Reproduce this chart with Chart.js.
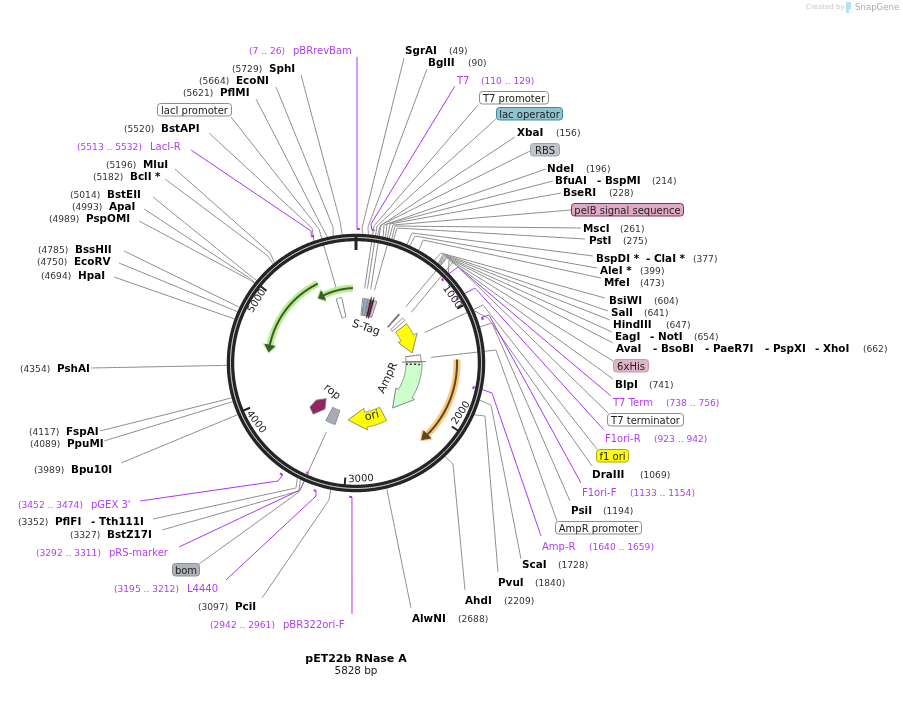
<!DOCTYPE html>
<html>
<head>
<meta charset="utf-8">
<title>pET22b RNase A</title>
<script src="https://cdn.jsdelivr.net/npm/chart.js@4"></script>
<style>
  html, body { margin: 0; padding: 0; background: #fff; }
  canvas { display: block; }
</style>
</head>
<body>
<canvas id="map" width="903" height="708"></canvas>
<script>
// Plasmid data, all in base pairs
const plasmidName = 'pET22b RNase A';
const plasmidSize = 5828;
const tickValues = [1000, 2000, 3000, 4000, 5000];

const enzymeNames = [
  ['SgrAI'], ['BglII'], ['XbaI'], ['NdeI'], ['BfuAI', 'BspMI'], ['BseRI'], ['MscI'], ['PstI'],
  ['BspDI *', 'ClaI *'], ['AleI *'], ['MfeI'], ['BsiWI'], ['SalI'], ['HindIII'], ['EagI', 'NotI'],
  ['AvaI', 'BsoBI', 'PaeR7I', 'PspXI', 'XhoI'], ['BlpI'], ['DraIII'], ['PsiI'], ['ScaI'], ['PvuI'],
  ['AhdI'], ['AlwNI'], ['PciI'], ['BstZ17I'], ['PflFI', 'Tth111I'], ['Bpu10I'], ['PpuMI'], ['FspAI'],
  ['PshAI'], ['HpaI'], ['EcoRV'], ['BssHII'], ['PspOMI'], ['ApaI'], ['BstEII'], ['BclI *'], ['MluI'],
  ['BstAPI'], ['PflMI'], ['EcoNI'], ['SphI']
];
const enzymeSites = [
  49, 90, 156, 196, 214, 228, 261, 275, 377, 399, 473, 604, 641, 647, 654, 662, 741, 1069, 1194, 1728, 1840,
  2209, 2688, 3097, 3327, 3352, 3989, 4089, 4117, 4354, 4694, 4750, 4785, 4989, 4993, 5014, 5182, 5196,
  5520, 5621, 5664, 5729
];

const primerNames = ['pBRrevBam', 'T7', 'T7 Term', 'F1ori-R', 'F1ori-F', 'Amp-R', 'pBR322ori-F', 'L4440', 'pRS-marker', "pGEX 3'", 'LacI-R'];
const primerStarts = [7, 110, 738, 923, 1133, 1640, 2942, 3195, 3292, 3452, 5513];
const primerEnds = [26, 129, 756, 942, 1154, 1659, 2961, 3212, 3311, 3474, 5532];
const primerInside = [false, false, true, true, false, true, false, false, true, false, false];

const featureNames = ['T7 promoter', 'lac operator', 'RBS', 'pelB signal sequence', 'S-Tag', '6xHis', 'T7 terminator', 'f1 ori', 'AmpR promoter', 'AmpR', 'ori', 'bom', 'rop', 'lacI promoter'];
const featureStarts = [96, 118, 170, 198, 264, 664, 745, 845, 1340, 1443, 2460, 3218, 3464, 5550];
const featureEnds = [118, 165, 195, 264, 305, 682, 792, 1295, 1435, 2280, 3043, 3361, 3675, 5628];

const orfStarts = [1425, 5412, 5790];
const orfEnds = [2257, 4490, 5342];

// Layout: where the texts sit and where their leaders bend, in page pixels
const enzymeLayout = [
  { x: [405], n: 449, y: 50, a: [404, 58], e: [362, 228] },
  { x: [428], n: 468, y: 62, a: [427, 69], e: [368, 227] },
  { x: [517], n: 556, y: 132, a: [515, 137], e: [380, 226] },
  { x: [547], n: 586, y: 168, a: [546, 169], e: [384, 225] },
  { x: [555, 597], n: 652, y: 180, a: [553, 181], e: [387, 224] },
  { x: [563], n: 609, y: 192, a: [561, 193], e: [390, 224] },
  { x: [583], n: 620, y: 228, a: [581, 228], e: [395, 226] },
  { x: [589], n: 623, y: 240, a: [585, 239], e: [397, 228] },
  { x: [596, 646], n: 693, y: 258, a: [593, 256], e: [412, 233] },
  { x: [600], n: 640, y: 270, a: [597, 268], e: [415, 236] },
  { x: [604], n: 640, y: 282, a: [601, 278], e: [423, 240] },
  { x: [609], n: 654, y: 300, a: [605, 298], e: [441, 253] },
  { x: [611], n: 644, y: 312, a: [608, 311], e: [443, 254] },
  { x: [613], n: 666, y: 324, a: [610, 320], e: [444, 255] },
  { x: [615, 650], n: 694, y: 336, a: [612, 332], e: [445, 256] },
  { x: [616, 653, 705, 765, 815], n: 863, y: 348, a: [613, 343], e: [446, 257] },
  { x: [615], n: 649, y: 384, a: [613, 379], e: [449, 260] },
  { x: [592], n: 640, y: 474, a: [592, 466], e: [488, 318] },
  { x: [571], n: 603, y: 510, a: [570, 501], e: [492, 323] },
  { x: [522], n: 558, y: 564, a: [521, 559], e: [491, 405] },
  { x: [498], n: 535, y: 582, a: [498, 572], e: [485, 416] },
  { x: [465], n: 504, y: 600, a: [465, 590], e: [453, 464] },
  { x: [412], n: 458, y: 618, a: [411, 608], e: [387, 490] },
  { x: [235], n: 198, y: 606, a: [262, 598], e: [329, 500] },
  { x: [107], n: 70, y: 534, a: [162, 530], e: [299, 491] },
  { x: [55, 91], n: 18, y: 521, a: [153, 519], e: [296, 488] },
  { x: [71], n: 34, y: 469, a: [121, 463], e: null },
  { x: [67], n: 30, y: 443, a: [104, 441], e: null },
  { x: [66], n: 29, y: 431, a: [100, 431], e: null },
  { x: [57], n: 20, y: 368, a: [91, 368], e: null },
  { x: [78], n: 41, y: 275, a: [114, 277], e: null },
  { x: [74], n: 37, y: 261, a: [119, 263], e: null },
  { x: [75], n: 38, y: 249, a: [124, 251], e: null },
  { x: [86], n: 49, y: 218, a: [139, 221], e: [250, 280] },
  { x: [109], n: 72, y: 206, a: [144, 209], e: [251, 279] },
  { x: [107], n: 70, y: 194, a: [153, 197], e: [252, 277] },
  { x: [130], n: 93, y: 176, a: [165, 179], e: [268, 256] },
  { x: [143], n: 106, y: 164, a: [175, 169], e: [270, 253] },
  { x: [161], n: 124, y: 128, a: [209, 133], e: [312, 228] },
  { x: [220], n: 183, y: 92, a: [256, 99], e: [322, 227] },
  { x: [236], n: 199, y: 80, a: [276, 87], e: [333, 227] },
  { x: [269], n: 232, y: 68, a: [301, 75], e: [340, 221] }
];
const primerLayout = [
  { x: 293, n: 249, y: 50, a: [357, 57], e: null },
  { x: 457, n: 481, y: 80, a: [455, 86], e: [371, 224] },
  { x: 613, n: 666, y: 402, a: [611, 396], e: [458, 267] },
  { x: 605, n: 654, y: 438, a: [604, 430], e: [475, 288] },
  { x: 582, n: 630, y: 492, a: [581, 483], e: [489, 315] },
  { x: 542, n: 589, y: 546, a: [541, 536], e: [492, 393] },
  { x: 283, n: 210, y: 624, a: [352, 614], e: null },
  { x: 187, n: 114, y: 588, a: [226, 580], e: [316, 496] },
  { x: 109, n: 36, y: 552, a: [179, 547], e: [300, 490] },
  { x: 91, n: 18, y: 504, a: [140, 501], e: [278, 481] },
  { x: 150, n: 77, y: 146, a: [191, 150], e: [311, 231] }
];
// Labelled boxes for the features that have a leader; box = left, right, centre y
const boxLayout = {
  'T7 promoter': { box: [479, 548, 98], a: [478, 105], e: [374, 226], fill: '#ffffff', edge: '#8c8c8c' },
  'lac operator': { box: [496, 562, 114], a: [496, 119], e: [377, 226], fill: '#8fc3d2', edge: '#3d8aa0' },
  'RBS': { box: [530, 559, 150], a: [530, 151], e: [381, 225], fill: '#c0c4ca', edge: '#a0a4aa' },
  'pelB signal sequence': { box: [571, 683, 210], a: [571, 210], e: [393, 225], fill: '#dfa9c6', edge: '#93245f' },
  '6xHis': { box: [613, 648, 366], a: [613, 361], e: [447, 258], fill: '#e0b4c8', edge: '#c498ae' },
  'T7 terminator': { box: [607, 683, 420], a: [608, 413], e: [453, 262], fill: '#ffffff', edge: '#8c8c8c' },
  'f1 ori': { box: [596, 628, 456], a: [597, 449], e: [483, 305], fill: '#ffff00', edge: '#a8a800' },
  'AmpR promoter': { box: [555, 641, 528], a: [557, 521], e: [496, 350], fill: '#ffffff', edge: '#8c8c8c' },
  'bom': { box: [172, 199, 570], a: [199, 564], e: [299, 492], fill: '#b0b4ba', edge: '#8c9096' },
  'lacI promoter': { box: [157, 231, 110], a: [231, 117], e: [319, 229], fill: '#ffffff', edge: '#8c8c8c' }
};
const tickLabelLayout = [[452, 297, 55], [461, 413, -57], [361, 479, -3], [256, 422, 53], [257, 301, -58]];
// rop outline as [bp, radius] pairs
const ropOutline = [[3664, 63.7], [3675, 54.5], [3561, 46.5], [3464, 55.5], [3561, 66.7]];

const CX = 356, CY = 363;
const GREY = '#8c8c8c', PURPLE = '#a92ff5', PURPLE_TEXT = '#b23cf5', RING = '#252525';

function polar(bp, r) {
  const a = bp / plasmidSize * Math.PI * 2;
  return { x: CX + r * Math.sin(a), y: CY - r * Math.cos(a) };
}
function arc(from, to, r) {
  const out = [];
  const n = Math.max(2, Math.ceil(Math.abs(to - from) / 12));
  for (let i = 0; i <= n; i++) out.push(polar(from + (to - from) * i / n, r));
  return out;
}
function px(p) { return { x: p[0], y: p[1] }; }

const painted = [];
function addLine(points, color, width, extra) {
  // the tiny tension keeps Chart.js off its fast path, which merges points sharing a pixel column
  painted.push(Object.assign({
    data: points, showLine: true, borderColor: color, borderWidth: width,
    pointRadius: 0, pointHoverRadius: 0, fill: false, tension: 0.0001, borderCapStyle: 'butt'
  }, extra || {}));
}
function addShape(points, fillColor, edge) {
  addLine(points.concat([points[0]]), edge, 1, { fill: 'shape', backgroundColor: fillColor, borderJoinStyle: 'miter' });
}
function sector(from, to, rIn, rOut) {
  return arc(from, to, rOut).concat(arc(to, from, rIn));
}
function blockArrow(from, head, tip, rIn, rOut, wingIn, wingOut) {
  return arc(from, head, rOut)
    .concat([polar(head, wingOut), polar(tip, (rIn + rOut) / 2), polar(head, wingIn)])
    .concat(arc(head, from, rIn));
}

// Leaders go first so the ring paints over them
enzymeSites.forEach((site, i) => {
  const l = enzymeLayout[i];
  const pts = [px(l.a)];
  if (l.e) pts.push(px(l.e));
  pts.push(polar(site, 129));
  addLine(pts, GREY, 1);
});
primerNames.forEach((name, i) => {
  const l = primerLayout[i];
  const r = primerInside[i] ? 120 : 134;
  const pts = [px(l.a)];
  if (l.e) pts.push(px(l.e));
  pts.push(polar(primerStarts[i], r));
  addLine(pts, PURPLE, 1);
  addLine(arc(primerStarts[i], primerEnds[i], r), PURPLE, 2);
});
featureNames.forEach((name, i) => {
  const l = boxLayout[name];
  if (!l) return;
  addLine([px(l.a), px(l.e), polar((featureStarts[i] + featureEnds[i]) / 2, 75)], GREY, 1);
});

// Ring and scale ticks
addLine(arc(0, plasmidSize, 125.5), RING, 7.5);
addLine(arc(0, plasmidSize, 125.5), '#ffffff', 1);
addLine([polar(0, 113), polar(0, 129)], RING, 3);
tickValues.forEach(t => addLine([polar(t, 115), polar(t, 124)], RING, 2));

// Open reading frames: glow, dark line, arrow head
const orfColors = [['#fbc97a', '#5a4728'], ['#b7ee90', '#3d5a2b'], ['#b7ee90', '#3d5a2b']];
const orfRadii = [101, 88, 75];
orfStarts.forEach((s, i) => {
  const e = orfEnds[i], r = orfRadii[i], dir = e > s ? 1 : -1, body = e - dir * 70;
  const head = [polar(body, r - 5), polar(e, r), polar(body, r + 5)];
  addShape([polar(body, r - 7), polar(e + dir * 14, r), polar(body, r + 7)], orfColors[i][0], orfColors[i][0]);
  addLine(arc(s, body, r), orfColors[i][0], 7);
  addShape(head, orfColors[i][1], orfColors[i][1]);
  addLine(arc(s, body, r), orfColors[i][1], 2);
});

// Features
const idx = n => featureNames.indexOf(n);
const sliceFill = { 'T7 promoter': '#ffffff', 'lac operator': '#7fb8c8', 'RBS': '#aab0b8', 'pelB signal sequence': '#93245f', 'S-Tag': '#eab9cf', '6xHis': '#93245f', 'T7 terminator': '#ffffff', 'bom': '#a7adb5', 'lacI promoter': '#ffffff' };
Object.keys(sliceFill).forEach(n => {
  const wide = n === 'lacI promoter' ? 47 : (n === 'bom' ? 50 : 48);
  addShape(sector(featureStarts[idx(n)], featureEnds[idx(n)], wide, n === 'lacI promoter' ? 67 : 65), sliceFill[n], '#888888');
});
addShape(blockArrow(featureStarts[idx('f1 ori')], 1036, featureEnds[idx('f1 ori')], 50, 64, 47, 68), '#ffff00', '#8a8a6a');
addShape(sector(featureStarts[idx('AmpR promoter')], featureEnds[idx('AmpR promoter')], 50, 65), '#ffffff', '#777777');
addLine([polar(1438, 46), polar(1438, 70)], '#777777', 1);
addShape(blockArrow(featureStarts[idx('AmpR')], 1975, featureEnds[idx('AmpR')], 50, 66, 47, 69), '#ccffcc', '#7f7f7f');
addLine([polar(1478, 50), polar(1478, 66)], '#333333', 1.5, { borderDash: [2, 2] });
addShape(blockArrow(featureStarts[idx('ori')], 2755, featureEnds[idx('ori')], 50, 65, 46, 68), '#ffff00', '#8a8a6a');
addShape(ropOutline.map(p => polar(p[0], p[1])), '#93245f', '#7a7a7a');
addLine([polar(214, 46), polar(214, 68)], '#222222', 1);
addLine([polar(250, 46), polar(250, 68)], '#222222', 1);

// Texts go on top of the marks
const textPlugin = {
  id: 'mapText',
  afterDatasetsDraw(chart) {
    const c = chart.ctx;
    const xs = chart.scales.x, ys = chart.scales.y;
    const text = (s, x, y, font, color, align) => {
      c.font = font; c.fillStyle = color; c.textAlign = align || 'left'; c.textBaseline = 'middle';
      c.fillText(s, xs.getPixelForValue(x), ys.getPixelForValue(y + 1));
    };
    const turned = (s, x, y, deg, size) => {
      c.save();
      c.translate(xs.getPixelForValue(x), ys.getPixelForValue(y));
      c.rotate(deg * Math.PI / 180);
      c.font = size + 'px "DejaVu Sans"'; c.fillStyle = '#222'; c.textAlign = 'center'; c.textBaseline = 'middle';
      c.fillText(s, 0, 0);
      c.restore();
    };
    const BOLD = 'bold 10.4px "DejaVu Sans"', NUM = '9.1px "DejaVu Sans"', LABEL = '10px "DejaVu Sans"';

    enzymeNames.forEach((names, i) => {
      const l = enzymeLayout[i];
      names.forEach((n, j) => text((j ? '- ' : '') + n, l.x[j], l.y, BOLD, '#000'));
      text('(' + enzymeSites[i] + ')', l.n, l.y + 0.5, NUM, '#333');
    });
    primerNames.forEach((n, i) => {
      const l = primerLayout[i];
      text(n, l.x, l.y, LABEL, PURPLE_TEXT);
      text('(' + primerStarts[i] + ' .. ' + primerEnds[i] + ')', l.n, l.y + 0.5, NUM, PURPLE_TEXT);
    });
    Object.keys(boxLayout).forEach(n => {
      const b = boxLayout[n];
      const [x0, x1, y] = b.box;
      c.beginPath();
      c.roundRect(x0 + 0.5, y - 6.5, x1 - x0, 12.5, 3);
      c.fillStyle = b.fill; c.fill();
      c.strokeStyle = b.edge; c.lineWidth = 1; c.stroke();
      text(n, (x0 + x1) / 2 + 0.5, y, LABEL, '#222', 'center');
    });
    tickValues.forEach((t, i) => {
      const l = tickLabelLayout[i];
      turned(String(t), l[0], l[1], l[2], 10);
    });
    turned('S-Tag', 366, 328, 18, 11);
    turned('AmpR', 388, 378, -65, 11);
    turned('ori', 372, 416, -15, 11);
    turned('rop', 332, 392, 40, 11);

    text(plasmidName, CX, 658.5, 'bold 11px "DejaVu Sans"', '#000', 'center');
    text(plasmidSize + ' bp', CX, 670.5, '10.4px "DejaVu Sans"', '#222', 'center');

    text('Created by', 806, 6.5, '7px "DejaVu Sans"', '#c8c8c8');
    text('SnapGene', 855, 6.5, '8.6px "DejaVu Sans"', '#ababab');
    c.fillStyle = '#b5e0f5';
    c.fillRect(xs.getPixelForValue(846), ys.getPixelForValue(2), 5, 7);
    c.fillRect(xs.getPixelForValue(846), ys.getPixelForValue(9), 3, 4);
  }
};

// Chart.js paints the first dataset last, so flip the painting order
new Chart(document.getElementById('map'), {
  type: 'scatter',
  data: { datasets: painted.slice().reverse() },
  options: {
    responsive: false,
    animation: false,
    events: [],
    layout: { padding: 0 },
    plugins: { legend: { display: false }, tooltip: { enabled: false } },
    scales: {
      x: { type: 'linear', min: 0, max: 903, display: false },
      y: { type: 'linear', min: 0, max: 708, reverse: true, display: false }
    }
  },
  plugins: [textPlugin]
});
</script>
</body>
</html>
